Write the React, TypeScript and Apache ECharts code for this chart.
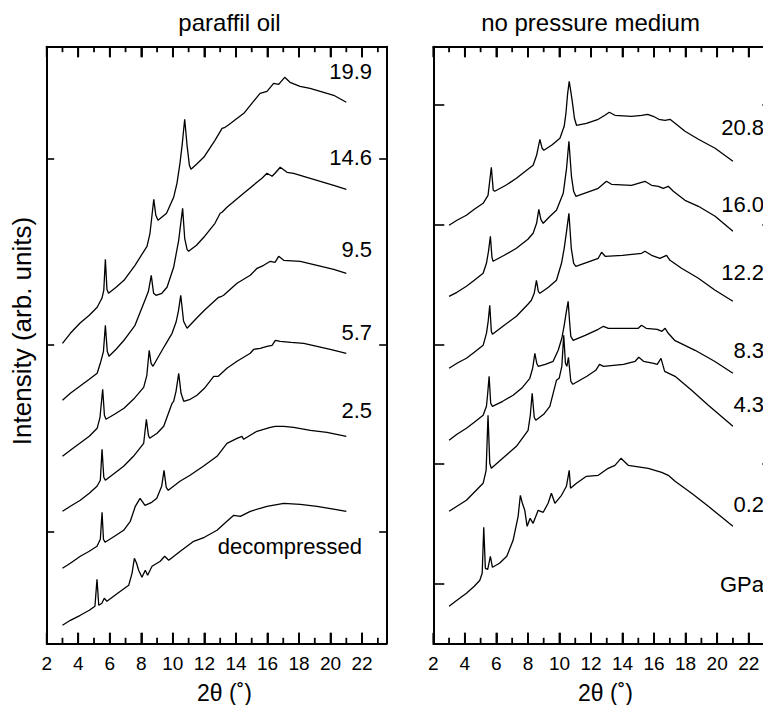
import React, { useEffect, useRef } from "react";
import * as echarts from "echarts";

const FONT = "'Liberation Sans', Arial, Helvetica, sans-serif";

// ---------- data: 2θ (deg) vs intensity (arb. units, stacked) ----------
const paraffin19_9: [number, number][] = [
  [3.0, 300], [3.5, 310], [4.1, 320], [4.7, 328], [5.2, 336], [5.5, 345], [5.62, 353], [5.72, 384], [5.82, 354], [5.92, 350],
  [6.4, 356], [6.9, 363], [7.6, 378], [8.36, 397], [8.55, 410], [8.79, 444], [8.92, 428], [9.06, 423], [9.6, 430], [10.05, 446],
  [10.26, 460], [10.45, 480], [10.6, 500], [10.75, 524], [10.9, 498], [11.05, 478], [11.15, 474], [11.5, 479], [11.96, 486],
  [12.67, 503], [13.12, 515], [13.31, 516], [13.5, 518], [14.5, 530], [15.53, 550], [15.97, 552], [16.39, 560], [16.71, 559],
  [17.09, 566], [17.43, 561], [18.06, 557], [18.7, 555], [19.56, 551], [20.2, 548], [21.0, 541],
];
const paraffin14_6: [number, number][] = [
  [3.0, 243], [3.5, 250], [4.1, 257], [4.7, 264], [5.2, 270], [5.4, 280], [5.6, 292], [5.72, 318], [5.84, 292], [5.95, 287],
  [6.4, 294], [6.9, 303], [7.6, 318], [8.23, 343], [8.45, 352], [8.63, 368], [8.78, 350], [8.93, 348], [9.3, 350], [9.63, 356],
  [10.05, 376], [10.37, 403], [10.5, 420], [10.62, 435], [10.75, 405], [10.9, 394], [11.0, 392], [11.5, 398], [11.96, 406],
  [12.67, 420], [13.0, 430], [13.12, 431], [13.43, 436], [14.49, 450], [15.33, 461], [15.65, 465], [15.97, 470], [16.29, 467],
  [16.48, 470], [16.81, 476], [17.24, 471], [17.66, 470], [18.5, 466], [19.35, 462], [20.2, 458], [21.0, 454],
];
const paraffin9_5: [number, number][] = [
  [3.0, 187], [3.5, 193], [4.1, 200], [4.7, 207], [5.2, 215], [5.38, 226], [5.55, 254], [5.66, 228], [5.76, 224], [6.3, 229],
  [6.9, 235], [7.5, 244], [8.15, 256], [8.35, 268], [8.5, 293], [8.62, 280], [8.74, 277], [9.1, 287], [9.5, 298], [9.95, 310],
  [10.2, 321], [10.35, 332], [10.5, 348], [10.68, 322], [10.9, 315], [11.5, 325], [12.0, 333], [12.69, 343], [12.9, 346],
  [13.1, 347], [13.22, 348], [14.07, 360], [14.91, 368], [15.34, 375], [15.76, 378], [16.18, 382], [16.48, 381], [16.71, 387],
  [17.03, 383], [18.08, 382], [19.14, 378], [20.2, 374], [21.0, 370],
];
const paraffin5_7: [number, number][] = [
  [3.0, 132], [3.5, 137], [4.13, 143], [4.7, 150], [5.19, 157], [5.4, 163], [5.51, 194], [5.62, 166], [5.72, 163], [6.3, 170],
  [6.88, 177], [7.5, 187], [8.15, 200], [8.32, 224], [8.45, 208], [8.53, 205], [9.0, 210], [9.42, 217], [9.95, 240], [10.05, 242],
  [10.2, 252], [10.37, 270], [10.52, 250], [10.69, 242], [11.1, 244], [11.53, 248], [12.0, 255], [12.59, 267], [12.88, 267],
  [13.43, 275], [14.07, 282], [14.91, 290], [15.13, 294], [15.54, 295], [15.97, 297], [16.29, 298], [16.5, 303], [16.81, 302],
  [17.5, 301], [18.3, 300], [19.14, 297], [19.98, 294], [21.0, 290],
];
const paraffin2_5: [number, number][] = [
  [3.0, 75], [3.5, 80], [4.13, 87], [4.7, 92], [5.19, 97], [5.4, 104], [5.51, 131], [5.6, 104], [5.7, 101], [6.3, 107],
  [6.88, 113], [7.3, 122], [7.62, 137], [7.92, 145], [8.1, 141], [8.23, 138], [8.66, 141], [8.98, 145], [9.29, 157], [9.44, 173],
  [9.58, 156], [9.71, 153], [10.45, 162], [11.09, 168], [11.93, 177], [12.8, 187], [13.43, 200], [14.07, 205], [14.38, 207],
  [14.49, 204], [15.33, 212], [16.18, 216], [16.5, 217], [17.03, 217], [17.66, 216], [18.72, 213], [19.77, 211], [21.0, 207],
];
const paraffinDecompressed: [number, number][] = [
  [3.0, 18], [3.5, 23], [4.13, 28], [4.7, 33], [5.06, 37], [5.19, 64], [5.3, 38], [5.5, 40], [5.65, 45], [5.82, 42],
  [6.5, 50], [7.2, 58], [7.41, 70], [7.56, 85], [7.7, 80], [7.83, 73], [8.04, 66], [8.25, 73], [8.4, 68], [8.68, 77],
  [9.2, 82], [9.48, 87], [9.74, 83], [10.47, 92], [11.32, 102], [12.0, 106], [12.8, 113], [13.43, 122], [13.86, 128],
  [14.28, 127], [14.91, 132], [15.97, 137], [17.03, 140], [18.08, 139], [19.14, 137], [21.0, 132],
];

const noMedium20_8: [number, number][] = [
  [3.0, 418], [3.5, 423], [4.1, 428], [4.6, 434], [5.16, 440], [5.47, 448], [5.68, 476], [5.8, 453], [5.9, 452], [6.6, 458],
  [7.27, 465], [8.0, 474], [8.33, 478], [8.55, 488], [8.76, 504], [8.9, 495], [9.01, 493], [9.5, 498], [10.03, 505], [10.3, 517],
  [10.41, 530], [10.52, 550], [10.62, 562], [10.72, 552], [10.83, 540], [10.95, 525], [11.08, 518], [11.71, 520], [12.46, 524],
  [12.88, 528], [13.16, 531], [13.52, 528], [14.57, 527], [15.21, 528], [15.59, 529], [15.95, 527], [16.3, 524], [16.69, 523],
  [17.01, 524], [17.33, 520], [17.96, 512], [18.81, 504], [19.87, 495], [21.0, 482],
];
const noMedium16_0: [number, number][] = [
  [3.0, 347], [3.5, 351], [4.1, 357], [4.6, 363], [5.16, 370], [5.37, 380], [5.5, 392], [5.62, 407], [5.72, 386], [5.79, 382],
  [6.5, 388], [7.27, 395], [8.0, 404], [8.33, 410], [8.55, 420], [8.69, 434], [8.82, 424], [8.97, 420], [9.4, 427], [9.81, 433],
  [10.24, 450], [10.45, 475], [10.6, 502], [10.76, 467], [10.9, 452], [11.04, 447], [11.93, 452], [12.46, 455], [12.98, 462],
  [13.3, 459], [14.57, 458], [15.42, 462], [15.84, 458], [16.27, 457], [16.58, 455], [16.9, 457], [17.22, 452], [17.96, 443],
  [18.81, 437], [19.87, 427], [21.0, 412],
];
const noMedium12_2: [number, number][] = [
  [3.0, 275], [3.5, 280], [4.1, 285], [4.6, 291], [5.16, 298], [5.37, 310], [5.48, 322], [5.58, 338], [5.68, 312], [5.75, 309],
  [6.5, 318], [7.27, 327], [8.0, 339], [8.22, 343], [8.4, 350], [8.54, 363], [8.66, 352], [8.76, 350], [9.3, 356], [9.81, 363],
  [10.13, 380], [10.3, 395], [10.45, 412], [10.6, 430], [10.75, 395], [10.9, 380], [11.04, 377], [11.93, 382], [12.46, 385],
  [12.67, 391], [12.9, 387], [14.0, 388], [15.21, 390], [15.42, 392], [15.84, 388], [16.37, 385], [16.79, 388], [17.01, 383],
  [17.74, 375], [18.81, 365], [19.87, 353], [21.0, 342],
];
const noMedium8_3: [number, number][] = [
  [3.0, 203], [3.5, 209], [4.1, 215], [4.6, 221], [5.16, 228], [5.37, 237], [5.45, 250], [5.54, 267], [5.64, 240], [5.75, 237],
  [6.4, 242], [7.06, 248], [7.6, 255], [8.12, 265], [8.3, 275], [8.44, 290], [8.56, 280], [8.65, 277], [9.1, 279], [9.6, 282],
  [9.92, 293], [10.15, 305], [10.3, 318], [10.42, 330], [10.55, 342], [10.65, 320], [10.72, 307], [10.87, 303], [11.63, 308],
  [12.46, 314], [12.79, 317], [13.1, 315], [14.5, 315], [15.0, 315], [15.2, 318], [15.5, 315], [16.2, 314], [16.5, 312],
  [16.7, 315], [16.9, 310], [17.3, 303], [18.6, 293], [19.83, 282], [21.0, 270],
];
const noMedium4_3: [number, number][] = [
  [3.0, 132], [3.5, 137], [4.1, 143], [4.6, 151], [5.16, 160], [5.35, 173], [5.47, 228], [5.58, 180], [5.68, 175], [6.4, 185],
  [7.27, 197], [8.01, 213], [8.15, 228], [8.27, 250], [8.4, 226], [8.5, 223], [9.0, 229], [9.39, 237], [9.81, 263], [9.98, 265],
  [10.15, 277], [10.27, 308], [10.38, 280], [10.47, 277], [10.57, 286], [10.72, 262], [10.85, 259], [11.74, 267], [12.3, 273],
  [12.54, 279], [12.79, 277], [14.06, 279], [14.8, 282], [15.03, 286], [15.33, 282], [15.97, 280], [16.2, 279], [16.44, 285],
  [16.67, 272], [17.33, 267], [18.38, 253], [19.44, 238], [21.0, 217],
];
const noMedium0_2: [number, number][] = [
  [3.0, 37], [3.5, 43], [4.1, 50], [4.6, 57], [4.95, 63], [5.1, 70], [5.2, 116], [5.3, 75], [5.45, 74], [5.62, 87],
  [5.75, 76], [6.2, 80], [6.66, 87], [7.06, 103], [7.38, 127], [7.52, 148], [7.65, 140], [7.8, 133], [7.95, 117], [8.14, 125],
  [8.33, 120], [8.65, 133], [8.97, 131], [9.28, 140], [9.49, 150], [9.71, 140], [10.13, 148], [10.44, 157], [10.62, 173],
  [10.7, 155], [11.08, 160], [11.71, 167], [12.46, 168], [13.09, 175], [13.52, 178], [13.9, 185], [14.36, 178], [14.79, 177],
  [15.63, 175], [16.48, 171], [16.9, 168], [17.33, 162], [18.38, 150], [19.44, 137], [21.0, 117],
];

// axis ticks
const xMajorTicks = [2, 4, 6, 8, 10, 12, 14, 16, 18, 20, 22];
const xMinorTicks = [3, 5, 7, 9, 11, 13, 15, 17, 19, 21, 23];
const xLabelMax = 22;
const leftYTicks = [111.6, 298.3, 485];
const rightYTicks = [59.7, 179.3, 299, 418.6, 538.3];

const leftLabels = ["19.9", "14.6", "9.5", "5.7", "2.5", "decompressed"];
const rightLabels = ["20.8", "16.0", "12.2", "8.3", "4.3", "0.2", "GPa"];

const leftSeries = [paraffin19_9, paraffin14_6, paraffin9_5, paraffin5_7, paraffin2_5, paraffinDecompressed];
const rightSeries = [noMedium20_8, noMedium16_0, noMedium12_2, noMedium8_3, noMedium4_3, noMedium0_2];

const X_MIN = 2;
const X_MAX = 23.56;
const Y_MIN = 0;
const Y_MAX = 596.6;

const MAJOR_LEN = 10.5;
const MINOR_LEN = 5.5;

function xAxisDef(grid: number, position: "top" | "bottom", withLabels: boolean) {
  return {
    type: "value",
    gridIndex: grid,
    position,
    min: X_MIN,
    max: X_MAX,
    interval: 2,
    axisLine: { show: true, onZero: false, lineStyle: { color: "#000", width: 2 } },
    axisTick: { show: true, inside: true, length: MAJOR_LEN, lineStyle: { color: "#000", width: 1.8 } },
    axisLabel: withLabels
      ? {
          show: true,
          showMaxLabel: false,
          color: "#000",
          fontSize: 19,
          fontFamily: FONT,
          margin: 11,
          formatter: (v: number) => (Math.abs(v - Math.round(v)) < 1e-6 && v <= xLabelMax ? String(Math.round(v)) : ""),
        }
      : { show: false },
    splitLine: { show: false },
  };
}

function yAxisDef(grid: number, position: "left" | "right", ticks: number[], len: number) {
  return {
    type: "value",
    gridIndex: grid,
    position,
    min: Y_MIN,
    max: Y_MAX,
    axisLine: { show: true, onZero: false, lineStyle: { color: "#000", width: 2 } },
    axisTick: { show: true, inside: true, length: len, customValues: ticks, lineStyle: { color: "#000", width: 1.6 } },
    axisLabel: { show: false },
    splitLine: { show: false },
  };
}

function textEl(text: string, x: number, y: number, size: number, align: string, extra: any = {}) {
  return {
    type: "text",
    x,
    y,
    ...extra,
    style: { text, fill: "#000", font: `${size}px ${FONT}`, align, verticalAlign: "middle" },
  };
}

export default function App() {
  const ref = useRef<HTMLDivElement>(null);

  useEffect(() => {
    if (!ref.current) return;
    const chart = echarts.init(ref.current, undefined, { renderer: "svg" });

    const series: any[] = [];
    leftSeries.forEach((d, i) => {
      series.push({
        type: "line", name: leftLabels[i], xAxisIndex: 0, yAxisIndex: 0, data: d,
        showSymbol: false, lineStyle: { color: "#000", width: 1.3 },
      });
    });
    rightSeries.forEach((d, i) => {
      series.push({
        type: "line", name: rightLabels[i], xAxisIndex: 2, yAxisIndex: 2, data: d,
        showSymbol: false, lineStyle: { color: "#000", width: 1.3 },
      });
    });

    const leftLabelY = [71, 157.5, 249.5, 332.5, 410.5];
    const rightLabelY = [127.5, 204.5, 272.5, 350, 404.5, 504.5, 584.5];

    const graphics: any[] = [
      textEl("paraffil oil", 229.5, 22, 24, "center"),
      textEl("no pressure medium", 590.5, 22, 24, "center"),
      textEl("2θ (˚)", 224.5, 693, 23, "center"),
      textEl("2θ (˚)", 605.5, 693, 23, "center"),
      textEl("Intensity (arb. units)", 22, 331, 26, "center", { rotation: Math.PI / 2 }),
    ];
    leftLabelY.forEach((y, i) => graphics.push(textEl(leftLabels[i], 372, y, 22, "right")));
    graphics.push(textEl(leftLabels[5], 362, 546, 22, "right"));
    rightLabelY.forEach((y, i) => graphics.push(textEl(rightLabels[i], 764, y, 22, "right")));

    const gridBase = { top: 46.7, width: 340, height: 596.6, outerBoundsMode: "none" };

    chart.setOption({
      animation: false,
      backgroundColor: "#fff",
      grid: [
        { ...gridBase, left: 46.7 },
        { ...gridBase, left: 433.3 },
      ],
      xAxis: [
        xAxisDef(0, "bottom", true),
        xAxisDef(0, "top", false),
        xAxisDef(1, "bottom", true),
        xAxisDef(1, "top", false),
      ],
      yAxis: [
        yAxisDef(0, "left", leftYTicks, 7.5),
        yAxisDef(0, "right", leftYTicks, 7.5),
        yAxisDef(1, "left", rightYTicks, 11),
        yAxisDef(1, "right", rightYTicks, 11),
      ],
      series,
      graphic: graphics,
    } as any);

    // minor (and major) x tick marks on top and bottom frames, placed through the axes' own scales
    const tickLines: any[] = [];
    [
      { x: 0, y: 0 },
      { x: 2, y: 2 },
    ].forEach(({ x, y }) => {
      const yb = chart.convertToPixel({ yAxisIndex: y } as any, Y_MIN) as number;
      const yt = chart.convertToPixel({ yAxisIndex: y } as any, Y_MAX) as number;
      const add = (v: number, len: number) => {
        const px = chart.convertToPixel({ xAxisIndex: x } as any, v) as number;
        tickLines.push({ type: "line", z: 10, silent: true, shape: { x1: px, y1: yb, x2: px, y2: yb - len }, style: { stroke: "#000", lineWidth: 1.8 } });
        tickLines.push({ type: "line", z: 10, silent: true, shape: { x1: px, y1: yt, x2: px, y2: yt + len }, style: { stroke: "#000", lineWidth: 1.8 } });
      };
      xMajorTicks.forEach((v) => add(v, MAJOR_LEN));
      xMinorTicks.forEach((v) => add(v, MINOR_LEN));
    });
    chart.setOption({ graphic: [...graphics, ...tickLines] } as any);

    return () => chart.dispose();
  }, []);

  return (
    <div
      ref={ref}
      style={{ position: "absolute", left: 0, top: 0, width: 763, height: 705, background: "#fff" }}
    />
  );
}
